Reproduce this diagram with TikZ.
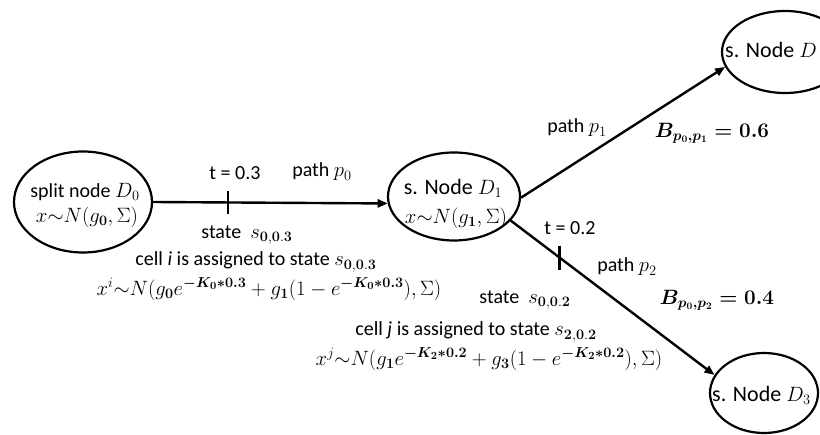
\documentclass[tikz,border=0pt]{standalone}
\usepackage{amsmath,amssymb}
\usepackage[no-math]{fontspec}
\setmainfont{Carlito}
\usetikzlibrary{arrows.meta,shapes.geometric}
\begin{document}
\begin{tikzpicture}[x=1pt,y=-1pt,
  ell/.style={draw, ellipse, line width=2.2pt, inner sep=0pt},
  conn/.style={line width=2.4pt},
  arr/.style={conn, -{Triangle[length=10pt,width=8pt]}},
  lbl/.style={inner sep=0pt, font=\fontsize{20}{24}\selectfont},
  nlbl/.style={inner sep=0pt, font=\fontsize{22}{26}\selectfont},
  flbl/.style={inner sep=0pt, font=\fontsize{22}{26}\selectfont},
]
\fill[white] (0,0) rectangle (820,435);
\useasboundingbox (0,0) rectangle (820,435);

% nodes
\node[ell, minimum width=138pt, minimum height=101pt] (D0) at (83,202) {};
\node[ell, minimum width=132pt, minimum height=88pt] (D1) at (454,196.5) {};
\node[ell, minimum width=126pt, minimum height=82pt] (D2) at (785,52) {};
\node[ell, minimum width=108pt, minimum height=80pt] (D3) at (764,393) {};

\node[lbl] (D0a) at (85,192) {split node $D_{0}$};
\node[flbl] (D0b) at (87,217) {$x{\sim}N(g_{\mathbf{0}},\Sigma)$};
\node[nlbl] (D1a) at (453,188) {s. Node $D_{1}$};
\node[flbl] (D1b) at (456,218) {$x{\sim}N(g_{\mathbf{1}},\Sigma)$};
\node[nlbl, anchor=west] (D2a) at (725,50) {s. Node $D$};
\node[nlbl, anchor=west] (D3a) at (712,395) {s. Node $D_{3}$};

% connectors
\draw[arr] (D0.east) -- (D1.186);
\draw[arr] (D1.-1) -- (D2.194);
\draw[arr] (D1.-23) -- (D3.160);

% ticks
\path (D0.east) -- (D1.186) coordinate[pos=0.32] (tk0);
\path (D1.-23) -- (D3.160) coordinate[pos=0.24] (tk2);
\draw[conn] ([yshift=11.5pt]tk0) -- ([yshift=-11.5pt]tk0);
\draw[conn] ([yshift=12pt]tk2) -- ([yshift=-12pt]tk2);

% labels
\node[lbl] (t03) at (235,173) {t = 0.3};
\node[lbl] (pp0) at (322,172) {path $p_{0}$};
\node[lbl] (st03) at (247,235) {state\ \ $s_{\mathbf{0,0.3}}$};
\node[lbl] (celli) at (256,262) {cell \textit{i} is assigned to state $s_{\mathbf{0,0.3}}$};
\node[flbl] (formi) at (269,289) {$x^{i}{\sim}N(g_{\mathbf{0}}e^{\boldsymbol{-K_{0}{*}0.3}}+g_{\mathbf{1}}(1-e^{\boldsymbol{-K_{0}{*}0.3}}),\Sigma)$};
\node[lbl] (pp1) at (577,128) {path $p_{1}$};
\node[lbl] (B1) at (712,133) {$\boldsymbol{B_{p_{0},p_{1}}=0.6}$};
\node[lbl] (t02) at (570,228) {t = 0.2};
\node[lbl] (pp2) at (627,267) {path $p_{2}$};
\node[lbl] (st02) at (525,300) {state\ \ $s_{\mathbf{0,0.2}}$};
\node[lbl] (B2) at (717,300) {$\boldsymbol{B_{p_{0},p_{2}}=0.4}$};
\node[lbl] (cellj) at (476,332) {cell \textit{j} is assigned to state $s_{\mathbf{2,0.2}}$};
\node[flbl] (formj) at (489,359) {$x^{j}{\sim}N(g_{\mathbf{1}}e^{\boldsymbol{-K_{2}{*}0.2}}+g_{\mathbf{3}}(1-e^{\boldsymbol{-K_{2}{*}0.2}}),\Sigma)$};
\end{tikzpicture}
\end{document}
